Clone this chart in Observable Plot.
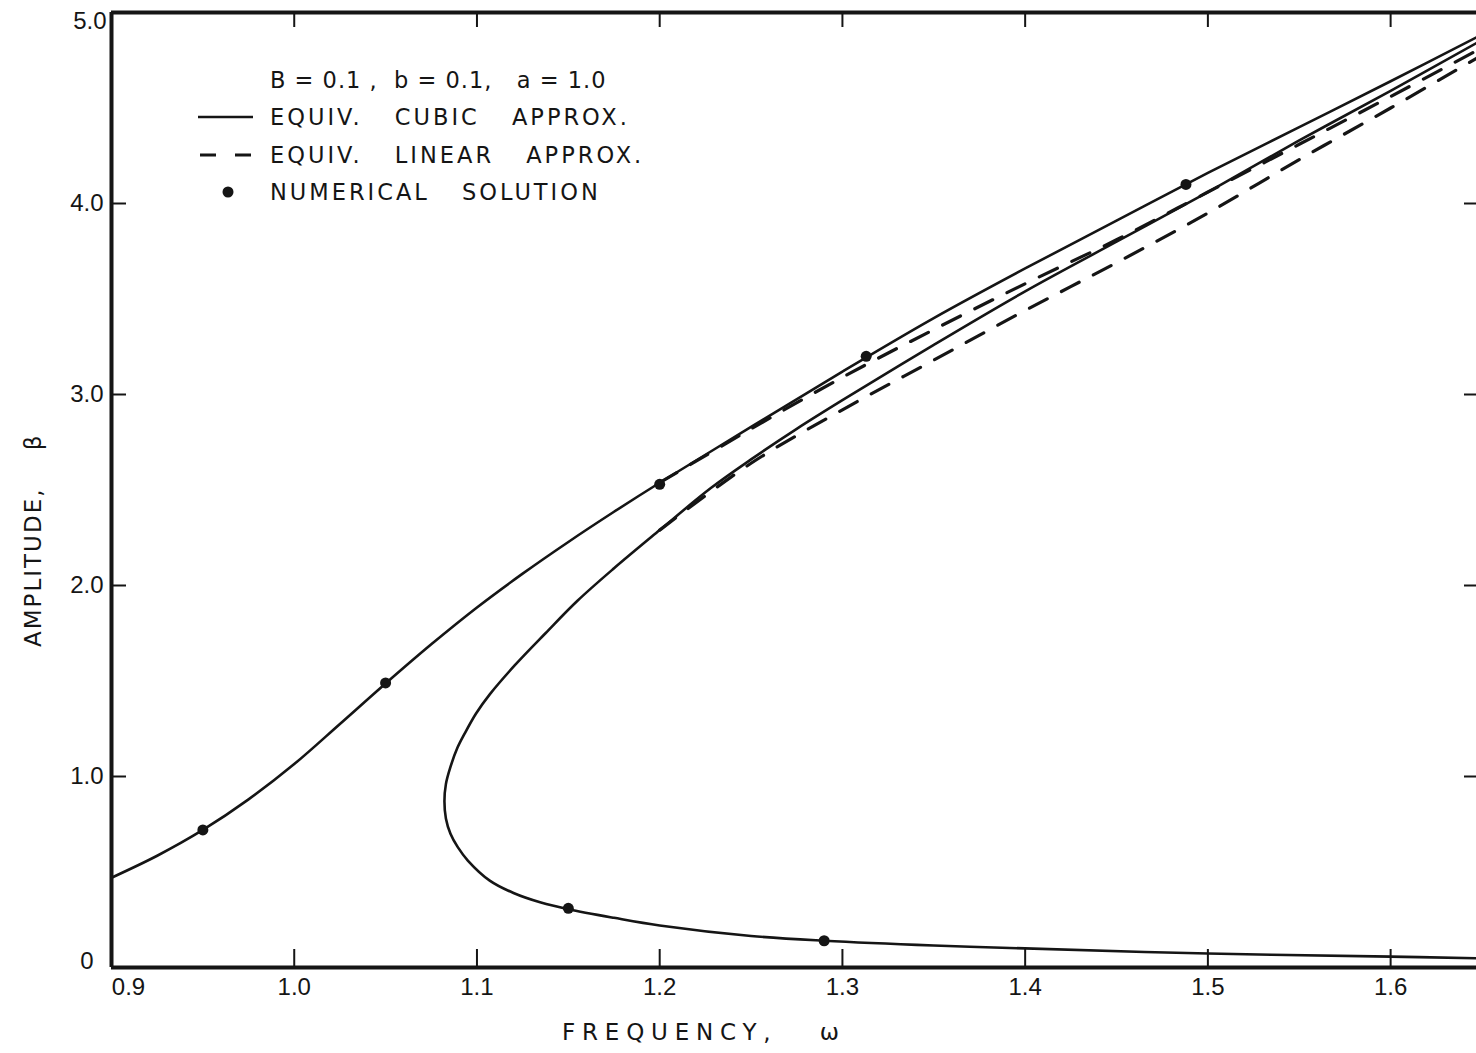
<!DOCTYPE html>
<html>
<head>
<meta charset="utf-8">
<script src="https://cdn.jsdelivr.net/npm/d3@7"></script>
<script src="https://cdn.jsdelivr.net/npm/@observablehq/plot@0.6"></script>
<style>
  html, body { margin: 0; padding: 0; background: #fff; }
  #wrap { position: relative; width: 1476px; height: 1053px; overflow: hidden; font-family: "DejaVu Sans", sans-serif; color: #151515; }
  .ttl { position: absolute; font-size: 23px; white-space: pre; }
  #legend { position: absolute; left: 196px; top: 62px; font-size: 22.5px; letter-spacing: 3px; word-spacing: 22px; }
  .row { position: absolute; left: 0; height: 36px; white-space: nowrap; }
  .row svg { position: absolute; left: 0; top: 0; }
  .row span { position: absolute; left: 74px; top: 5px; }
  .row span.head { letter-spacing: 1px; word-spacing: 0; white-space: pre; }
</style>
</head>
<body>
<div id="wrap"></div>
<script>
// ---- axes ----
const xDomain = [0.9, 1.647];
const yDomain = [0, 5];
const xTicks = [0.9, 1.0, 1.1, 1.2, 1.3, 1.4, 1.5, 1.6];
const xTickLabels = ["0.9", "1.0", "1.1", "1.2", "1.3", "1.4", "1.5", "1.6"];
const yTicks = [0, 1, 2, 3, 4, 5];
const yTickLabels = ["0", "1.0", "2.0", "3.0", "4.0", "5.0"];
const xTitle = "FREQUENCY,   ω";
const yTitle = "AMPLITUDE,    β";
const legendTitle = "B = 0.1 ,  b = 0.1,   a = 1.0";
const legendLabels = ["EQUIV. CUBIC APPROX.", "EQUIV. LINEAR APPROX.", "NUMERICAL SOLUTION"];

// ---- equivalent cubic approximation (solid) ----
const cubicUpperW = [0.900,0.925,0.950,0.975,1.000,1.025,1.050,1.075,1.100,1.125,1.150,1.175,1.200,1.250,1.300,1.350,1.400,1.450,1.500,1.550,1.600,1.647];
const cubicUpperA = [0.47,0.585,0.72,0.88,1.065,1.275,1.487,1.692,1.885,2.062,2.228,2.386,2.538,2.83,3.12,3.40,3.66,3.91,4.16,4.40,4.64,4.87];
// lower branch (right to left) turning into middle branch (left to right)
const cubicLowerW = [1.647,1.600,1.500,1.400,1.350,1.290,1.250,1.200,1.175,1.150,1.135,1.120,1.107,1.095,1.0895,1.0855,1.0830,1.0822,1.0830,1.0855,1.0893,1.0930,1.0995,1.1070,1.1205,1.1375,1.1550,1.1750,1.2000,1.2280,1.2500,1.2750,1.3000,1.3500,1.4000,1.4500,1.5000,1.5500,1.6000,1.6470];
const cubicLowerA = [0.048,0.057,0.073,0.100,0.115,0.140,0.165,0.220,0.260,0.305,0.340,0.390,0.455,0.560,0.630,0.700,0.780,0.870,0.960,1.050,1.150,1.220,1.330,1.430,1.580,1.750,1.920,2.090,2.290,2.510,2.660,2.820,2.970,3.260,3.540,3.800,4.060,4.330,4.590,4.840];

// ---- equivalent linear approximation (dashed) ----
const linUpperW = [1.200,1.250,1.300,1.350,1.400,1.450,1.500,1.550,1.600,1.647];
const linUpperA = [2.538,2.82,3.09,3.34,3.58,3.81,4.06,4.31,4.56,4.80];
const linMiddleW = [1.200,1.250,1.300,1.350,1.400,1.450,1.500,1.550,1.600,1.647];
const linMiddleA = [2.29,2.64,2.92,3.18,3.44,3.69,3.95,4.23,4.50,4.76];

// ---- numerical solution (dots) ----
const numW = [0.95, 1.05, 1.20, 1.313, 1.488, 1.15, 1.29];
const numA = [0.72, 1.49, 2.53, 3.20, 4.10, 0.31, 0.14];

const ink = "#151515";
const rows = (ws, as, branch) => ws.map((w, i) => ({w, a: as[i], branch}));
const cubic = [...rows(cubicUpperW, cubicUpperA, "upper"), ...rows(cubicLowerW, cubicLowerA, "lower")];
const linear = [...rows(linUpperW, linUpperA, "upper"), ...rows(linMiddleW, linMiddleA, "middle")];
const numerical = rows(numW, numA, "num");

const W = 1476, H = 1053, mL = 111, mR = 0, mT = 12, mB = 86;
const pxX = (xDomain[1] - xDomain[0]) / (W - mL - mR);
const pxY = (yDomain[1] - yDomain[0]) / (H - mT - mB);
const inner = xTicks.slice(1);
const innerY = yTicks.slice(1, 5);
const tickFont = "Liberation Sans, Arial, sans-serif";

const chart = Plot.plot({
  width: W, height: H,
  marginLeft: mL, marginRight: mR, marginTop: mT, marginBottom: mB,
  x: {domain: xDomain},
  y: {domain: yDomain},
  style: {fontFamily: tickFont, fontSize: "24px", color: ink, background: "#fff", overflow: "visible"},
  marks: [
    Plot.axisX(xTicks.slice(1), {tickSize: 0, tickPadding: 10, tickFormat: (d, i) => xTickLabels[i + 1], label: null}),
    Plot.axisX(xTicks.slice(0, 1), {tickSize: 0, tickPadding: 10, dx: 17, tickFormat: () => xTickLabels[0], label: null}),
    Plot.axisY(yTicks.slice(1, 5), {tickSize: 0, tickPadding: 8, tickFormat: (d, i) => yTickLabels[i + 1], label: null}),
    Plot.axisY(yTicks.slice(0, 1), {tickSize: 0, tickPadding: 18, dy: -6, tickFormat: () => yTickLabels[0], label: null}),
    Plot.axisY(yTicks.slice(5), {tickSize: 0, tickPadding: 5, dy: 9, tickFormat: () => yTickLabels[5], label: null}),
    // frame
    Plot.ruleX([xDomain[0]], {stroke: ink, strokeWidth: 4}),
    Plot.ruleY([yDomain[0], yDomain[1]], {stroke: ink, strokeWidth: 4}),
    // inward ticks
    Plot.ruleX(inner, {x: d => d, y1: yDomain[0], y2: yDomain[0] + 18 * pxY, stroke: ink, strokeWidth: 2}),
    Plot.ruleX(inner, {x: d => d, y1: yDomain[1], y2: yDomain[1] - 15 * pxY, stroke: ink, strokeWidth: 2}),
    Plot.ruleY(innerY, {y: d => d, x1: xDomain[0], x2: xDomain[0] + 15 * pxX, stroke: ink, strokeWidth: 2}),
    Plot.ruleY(innerY, {y: d => d, x1: xDomain[1], x2: xDomain[1] - 12 * pxX, stroke: ink, strokeWidth: 2}),
    // curves
    Plot.line(linear, {x: "w", y: "a", z: "branch", curve: "catmull-rom", stroke: ink, strokeWidth: 3.2, strokeDasharray: "20,16", clip: true}),
    Plot.line(cubic, {x: "w", y: "a", z: "branch", curve: "catmull-rom", stroke: ink, strokeWidth: 2.6, clip: true}),
    Plot.dot(numerical, {x: "w", y: "a", r: 5.5, fill: ink, stroke: "none"})
  ]
});

const wrap = document.getElementById("wrap");
wrap.appendChild(chart);

// axis titles
const xt = document.createElement("div");
xt.className = "ttl";
xt.textContent = xTitle;
xt.style.letterSpacing = "6.8px";
xt.style.left = "562px"; xt.style.top = "1019px";
wrap.appendChild(xt);

const yt = document.createElement("div");
yt.className = "ttl";
yt.textContent = yTitle;
yt.style.letterSpacing = "2px";
yt.style.left = "20px"; yt.style.top = "647px";
yt.style.transformOrigin = "0 0";
yt.style.transform = "rotate(-90deg)";
wrap.appendChild(yt);

// legend
const lg = document.createElement("div");
lg.id = "legend";
const mkRow = (top, sample, label, cls) => {
  const r = document.createElement("div");
  r.className = "row"; r.style.top = top + "px";
  r.innerHTML = sample + `<span class="${cls || ""}">${label}</span>`;
  lg.appendChild(r);
};
mkRow(0, "", legendTitle, "head");
mkRow(37, `<svg width="60" height="36"><line x1="2" x2="57" y1="18" y2="18" stroke="${ink}" stroke-width="2.6"/></svg>`, legendLabels[0]);
mkRow(75, `<svg width="60" height="36"><line x1="4" x2="57" y1="18" y2="18" stroke="${ink}" stroke-width="3.2" stroke-dasharray="16,19"/></svg>`, legendLabels[1]);
mkRow(112, `<svg width="60" height="36"><circle cx="32" cy="18" r="5.5" fill="${ink}"/></svg>`, legendLabels[2]);
wrap.appendChild(lg);
</script>
</body>
</html>
